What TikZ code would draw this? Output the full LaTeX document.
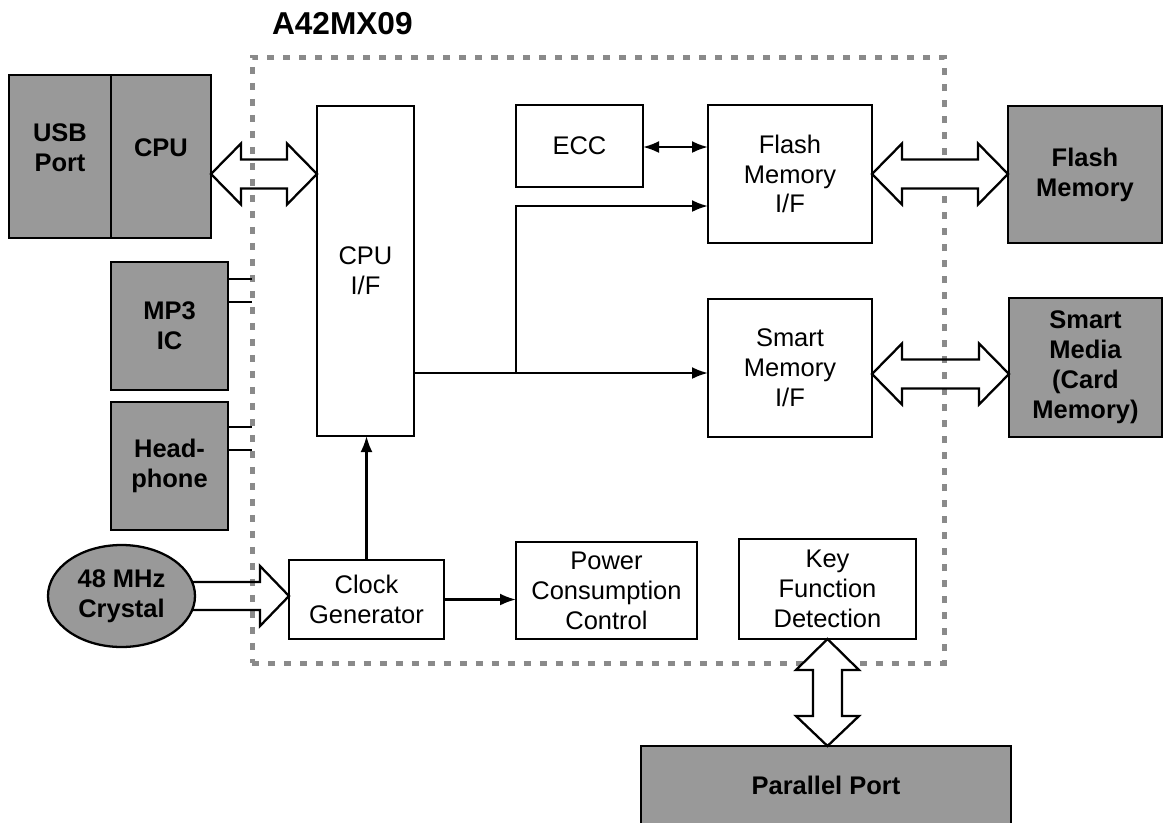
\documentclass[tikz,border=0pt]{standalone}
\usepackage{fontspec}
\setmainfont{Liberation Sans}
\usetikzlibrary{calc,arrows.meta,shapes.geometric}
\definecolor{portgray}{RGB}{153,153,153}
\definecolor{framegray}{RGB}{138,138,138}
% outlined two-headed bus between two points at the height of the first
\newcommand{\hbus}[3]{%
  \draw[busarrow,#1] let \p1=#2, \p2=#3 in
    (\x1,\y1) -- (\x1+0.6cm,\y1+0.61cm) -- (\x1+0.6cm,\y1+0.29cm)
    -- (\x2-0.6cm,\y1+0.29cm) -- (\x2-0.6cm,\y1+0.61cm) -- (\x2,\y1)
    -- (\x2-0.6cm,\y1-0.61cm) -- (\x2-0.6cm,\y1-0.29cm)
    -- (\x1+0.6cm,\y1-0.29cm) -- (\x1+0.6cm,\y1-0.61cm) -- cycle;}
\begin{document}
\begin{tikzpicture}[inner sep=0pt,outer sep=0pt,line width=1.3pt,
>={Latex[length=0.32cm,width=0.24cm]},font=\fontsize{14.5}{17}\selectfont,
block/.style={draw,rectangle,fill=white,align=center},
port/.style={draw,rectangle,fill=portgray,align=center,font=\fontsize{14.5}{17}\selectfont\bfseries},
chipframe/.style={draw=framegray,rectangle,line width=0.1cm,dash pattern=on 0.14cm off 0.18cm},
busarrow/.style={line width=1.3pt,line join=miter}]
\useasboundingbox (0,0) rectangle (23.28,-16.44);
\draw (11.96,-7.2) node[chipframe,minimum width=13.84cm,minimum height=12.12cm] (chip) {};
\draw (5.44,-0.68) node[anchor=base west,font=\fontsize{18}{21}\selectfont\bfseries] (title) {A42MX09};
% outside parts
\draw (1.2,-3.13) node[port,minimum width=2.04cm,minimum height=3.26cm,text depth=0.36cm] (usb) {USB\\Port};
\draw (3.22,-3.13) node[port,minimum width=2cm,minimum height=3.26cm,text depth=0.36cm] (cpu) {CPU};
\draw (3.39,-6.52) node[port,minimum width=2.34cm,minimum height=2.56cm] (mp3) {MP3\\IC};
\draw (3.39,-9.32) node[port,minimum width=2.34cm,minimum height=2.56cm] (phone) {Head-\\phone};
\draw (2.43,-11.92) node[port,ellipse,minimum width=2.94cm,minimum height=2.04cm] (crystal) {48 MHz\\Crystal};
\draw (21.7,-3.49) node[port,minimum width=3.08cm,minimum height=2.74cm] (flash) {Flash\\Memory};
\draw (21.71,-7.35) node[port,minimum width=3.06cm,minimum height=2.78cm] (smart) {Smart\\Media\\(Card\\Memory)};
\draw (16.52,-15.7) node[port,minimum width=7.4cm,minimum height=1.56cm] (parallel) {Parallel Port};
% inside the chip
\draw (7.31,-5.42) node[block,minimum width=1.94cm,minimum height=6.6cm] (cpuif) {CPU\\I/F};
\draw (11.59,-2.92) node[block,minimum width=2.54cm,minimum height=1.64cm] (ecc) {ECC};
\draw (15.8,-3.48) node[block,minimum width=3.28cm,minimum height=2.76cm] (flashif) {Flash\\Memory\\I/F};
\draw (15.8,-7.36) node[block,minimum width=3.28cm,minimum height=2.76cm] (smartif) {Smart\\Memory\\I/F};
\draw (7.33,-11.99) node[block,minimum width=3.1cm,minimum height=1.58cm] (clock) {Clock\\Generator};
\draw (12.13,-11.81) node[block,minimum width=3.62cm,minimum height=1.94cm] (power) {Power\\Consumption\\Control};
\draw (16.55,-11.78) node[block,minimum width=3.54cm,minimum height=2cm] (key) {Key\\Function\\Detection};
% signals
\draw ($(mp3.north east)+(0,-0.34)$) coordinate (m1) -- (m1 -| chip.west);
\draw ($(mp3.north east)+(0,-0.8)$) coordinate (m2) -- (m2 -| chip.west);
\draw ($(phone.north east)+(0,-0.5)$) coordinate (h1) -- (h1 -| chip.west);
\draw ($(phone.north east)+(0,-0.96)$) coordinate (h2) -- (h2 -| chip.west);
\draw[<->] ($(ecc.east)+(0,-0.02)$) coordinate (e1) -- (e1 -| flashif.west);
\coordinate (split) at (10.32,-7.46);
\draw (cpuif.east |- split) -- (split);
\draw[->] (split) |- ($(flashif.west)+(0,-0.64)$);
\draw[->] (split) -- (smartif.west |- split);
\draw[->] (clock.north) -- (clock.north |- cpuif.south);
\draw[->] (clock.east) -- (clock.east -| power.west);
% buses
\hbus{}{($(cpu.east)+(0,-0.35)$)}{(cpuif.west)}
\hbus{fill=white}{(flashif.east)}{(flash.west)}
\hbus{}{($(smartif.east)+(0,-0.12)$)}{(smart.west)}
\draw[busarrow,fill=white] let \p1=(key.south), \p2=(parallel.north) in
  (\x1,\y1) -- (\x1+0.63cm,\y1-0.62cm) -- (\x1+0.29cm,\y1-0.62cm)
  -- (\x1+0.29cm,\y2+0.6cm) -- (\x1+0.63cm,\y2+0.6cm) -- (\x1,\y2)
  -- (\x1-0.63cm,\y2+0.6cm) -- (\x1-0.29cm,\y2+0.6cm)
  -- (\x1-0.29cm,\y1-0.62cm) -- (\x1-0.63cm,\y1-0.62cm) -- cycle;
\draw[busarrow] let \p1=(crystal.center), \p2=(clock.west) in
  (\x1+1.4cm,\y1+0.28cm) -- (\x2-0.58cm,\y1+0.28cm) -- (\x2-0.58cm,\y1+0.6cm)
  -- (\x2,\y1) -- (\x2-0.58cm,\y1-0.6cm) -- (\x2-0.58cm,\y1-0.28cm) -- (\x1+1.4cm,\y1-0.28cm);
\end{tikzpicture}
\end{document}
